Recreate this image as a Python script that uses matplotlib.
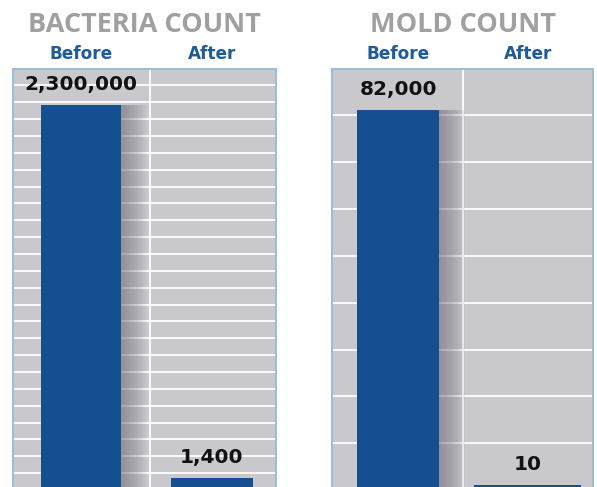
import matplotlib
matplotlib.use("Agg")
import matplotlib.pyplot as plt
import numpy as np
from matplotlib.transforms import blended_transform_factory, offset_copy

# ---- data ----
panel_titles = ["BACTERIA COUNT", "MOLD COUNT"]
categories = ["Before", "After"]
bacteria_values = [2300000, 1400]
mold_values = [82000, 10]
value_labels_bacteria = ["2,300,000", "1,400"]
value_labels_mold = ["82,000", "10"]

# ---- style ----
BG = "#c9c8cd"
BAR = "#154f8f"
BORDER = "#98bcd8"
HEAD = "#1f5a99"
TITLE = "#a0a0a0"

W, H = 597, 487
fig = plt.figure(figsize=(W / 100, H / 100), dpi=100)
fig.patch.set_facecolor("white")

panels = [
    dict(values=bacteria_values, labels=value_labels_bacteria, title=panel_titles[0],
         rect=(13.3, 68.5, 276.0, 490.0), ylim=(-72550, 2524700), xlim=(-0.514, 1.49),
         widths=[0.61, 0.626], divider=0.529, ngrid=25),
    dict(values=mold_values, labels=value_labels_mold, title=panel_titles[1],
         rect=(332.3, 68.5, 593.3, 490.0), ylim=(-1083, 91060), xlim=(-0.51, 1.505),
         widths=[0.633, 0.826], divider=0.497, ngrid=9),
]

for p in panels:
    x0, y0, x1, y1 = p["rect"]
    ax = fig.add_axes([x0 / W, (H - y1) / H, (x1 - x0) / W, (y1 - y0) / H])
    ax.set_facecolor(BG)
    ax.set_xlim(*p["xlim"])
    ax.set_ylim(*p["ylim"])
    lo, hi = p["ylim"]
    ax.set_yticks(np.linspace(lo, hi, p["ngrid"] + 1))
    ax.yaxis.grid(True, color="white", linewidth=1.3, zorder=0)
    ax.set_axisbelow(True)
    ax.tick_params(left=False, bottom=False, labelleft=False, labelbottom=False)
    ax.set_xticks([])
    ax.axvline(p["divider"], color="white", linewidth=1.3, zorder=1)
    for s in ax.spines.values():
        s.set_color(BORDER)
        s.set_linewidth(1.4)
    ax.spines["bottom"].set_visible(False)

    xs = np.arange(len(categories))
    vals = p["values"]
    # soft shadow to the right of the tall bar
    nsh = 16
    x, v, w = xs[0], vals[0], p["widths"][0]
    for k in range(nsh):
        sw = 0.21 * (k + 1) / nsh
        ax.bar(x + w / 2 - 0.01, v - lo, bottom=lo, width=sw, align="edge",
               color="#737278", alpha=0.055, linewidth=0, zorder=2)
    ax.bar(xs, [v - lo for v in vals], bottom=lo, width=p["widths"],
           color=BAR, linewidth=0, zorder=3)

    for x, v, lab in zip(xs, vals, p["labels"]):
        ax.annotate(lab, (x, v), xytext=(0, 8), textcoords="offset points",
                    ha="center", va="bottom", fontsize=14.5, fontweight="bold",
                    family="DejaVu Sans", color="#111111", zorder=5)

    tr = blended_transform_factory(ax.transData, ax.transAxes)
    for x, c in zip(xs, categories):
        ax.text(x, 1.0, c, transform=offset_copy(tr, fig=fig, y=7, units="points"),
                ha="center", va="baseline", fontsize=12.2, fontweight="bold",
                family="DejaVu Sans", color=HEAD)
    ax.text(0.5, 1.0, p["title"], transform=offset_copy(ax.transAxes, fig=fig, y=26.5, units="points"),
            ha="center", va="baseline", fontsize=19.5, fontweight="bold",
            family="Open Sans", color=TITLE)

fig.savefig("out.png", dpi=100, facecolor="white")
